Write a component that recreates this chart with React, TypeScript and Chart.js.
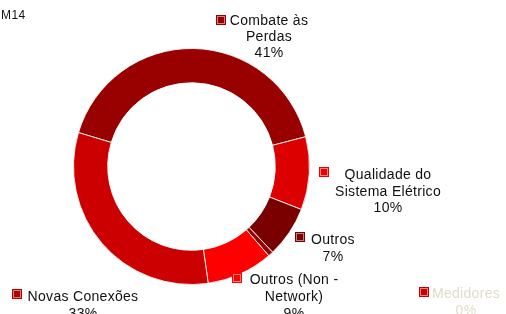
import React, { useEffect, useRef } from "react";
import { Chart, registerables } from "chart.js";

Chart.register(...registerables);

const categories = [
  "Combate às Perdas",
  "Qualidade do Sistema Elétrico",
  "Outros",
  "Medidores",
  "Outros (Non - Network)",
  "Novas Conexões",
];
const values = [41.3, 10.0, 7.0, 0.7, 9.1, 31.9];
const sliceColors = ["#990000", "#dd0000", "#7a0000", "#990000", "#ff0000", "#cc0000"];
const markerColors = ["#990000", "#ee0000", "#7a0000", "#cc0000", "#ff0000", "#b00000"];
const labelLines = [
  ["Combate às", "Perdas", "41%"],
  ["Qualidade do", "Sistema Elétrico", "10%"],
  ["Outros", "7%"],
  ["Medidores", "0%"],
  ["Outros (Non -", "Network)", "9%"],
  ["Novas Conexões", "33%"],
];
const subtitle = "M14";

// label layout: marker x,y ; text center x ; first baseline y ; line height ; text colour
const labelLayout = [
  { mx: 216, my: 15, cx: 269, by: 25, lh: 16, color: "#111111" },
  { mx: 319, my: 167, cx: 388, by: 179, lh: 16.5, color: "#111111" },
  { mx: 295, my: 232, cx: 333, by: 244, lh: 16.5, color: "#111111" },
  { mx: 419, my: 287, cx: 466, by: 298, lh: 17, color: "#e2ddc8" },
  { mx: 232, my: 273, cx: 294, by: 284, lh: 17, color: "#111111" },
  { mx: 12, my: 289, cx: 83, by: 301, lh: 17, color: "#111111" },
];

const FONT = '"Liberation Sans", Arial, sans-serif';

const labelsPlugin = {
  id: "outsideLabels",
  afterDraw(chart: any) {
    const ctx = chart.ctx as CanvasRenderingContext2D;
    ctx.save();
    ctx.font = `12px ${FONT}`;
    ctx.fillStyle = "#111111";
    ctx.textAlign = "left";
    ctx.textBaseline = "alphabetic";
    (ctx as any).letterSpacing = "0.4px";
    ctx.fillText(subtitle, 1, 19);
    ctx.font = `14px ${FONT}`;
    (ctx as any).letterSpacing = "0.3px";
    labelLines.forEach((lines, i) => {
      const l = labelLayout[i];
      ctx.fillStyle = markerColors[i];
      ctx.fillRect(l.mx, l.my, 10, 10);
      ctx.strokeStyle = "rgba(255,255,255,0.5)";
      ctx.lineWidth = 1;
      ctx.strokeRect(l.mx + 1.5, l.my + 1.5, 7, 7);
      ctx.fillStyle = l.color;
      ctx.textAlign = "center";
      lines.forEach((t, k) => {
        ctx.fillText(t, l.cx, l.by + k * l.lh);
      });
    });
    ctx.restore();
  },
};

export default function App() {
  const ref = useRef<HTMLCanvasElement>(null);
  useEffect(() => {
    if (!ref.current) return;
    const chart = new Chart(ref.current, {
      type: "doughnut",
      data: {
        labels: categories,
        datasets: [
          {
            data: values,
            backgroundColor: sliceColors,
            borderColor: "rgba(255,255,255,0.85)",
            borderWidth: 1,
          },
        ],
      },
      options: {
        animation: false,
        responsive: false,
        maintainAspectRatio: false,
        rotation: -73.3,
        cutout: "71%",
        layout: { padding: { left: 73, right: 196, top: 48, bottom: 29 } },
        plugins: {
          legend: { display: false },
          tooltip: { enabled: false },
          title: { display: false },
        },
      },
      plugins: [labelsPlugin],
    });
    return () => chart.destroy();
  }, []);
  return (
    <div style={{ position: "fixed", left: 0, top: 0, width: 506, height: 314, background: "#fff" }}>
      <canvas ref={ref} width={506} height={314} style={{ display: "block" }} />
    </div>
  );
}
